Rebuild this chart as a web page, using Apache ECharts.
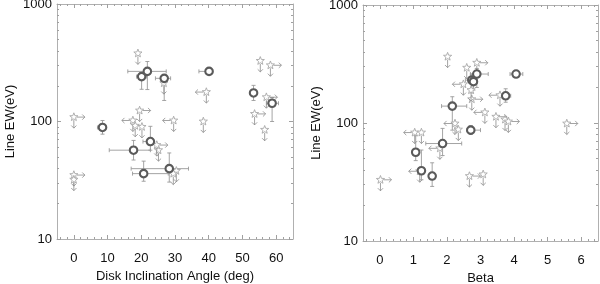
<!DOCTYPE html>
<html><head><meta charset="utf-8">
<script src="https://cdn.jsdelivr.net/npm/echarts@6/dist/echarts.min.js"></script>
<style>html,body{margin:0;padding:0;background:#fff}#c{width:600px;height:284px}</style>
</head><body><div id="c"></div>
<script>
// ---------- Tick labels ----------
const incTicks = [0, 10, 20, 30, 40, 50, 60];
const betaTicks = [0, 1, 2, 3, 4, 5, 6];
const ewTicks = [10, 100, 1000];
const ewMinor = [20, 30, 40, 50, 60, 70, 80, 90, 200, 300, 400, 500, 600, 700, 800, 900];
const incMinor = [-4, -2, 2, 4, 6, 8, 12, 14, 16, 18, 22, 24, 26, 28, 32, 34, 36, 38, 42, 44, 46, 48, 52, 54, 56, 58, 62, 64];
const betaMinor = [-0.4, -0.2, 0.2, 0.4, 0.6, 0.8, 1.2, 1.4, 1.6, 1.8, 2.2, 2.4, 2.6, 2.8, 3.2, 3.4, 3.6, 3.8, 4.2, 4.4, 4.6, 4.8, 5.2, 5.4, 5.6, 5.8, 6.2, 6.4];

// ---------- Left panel: detections [inc, EW, incLo, incHi, EWlo, EWhi] ----------
const incDet = [
  [8.5, 89, 7, 8.5, 78, 102],
  [17.7, 57, 10.5, 22.7, 47, 69],
  [20.1, 241, 18.6, 21.6, 188, 260],
  [21.8, 267, 16, 27.4, 187, 324],
  [20.7, 36, 17.4, 28, 31, 46],
  [22.7, 67.5, 20.5, 23.5, 57, 91],
  [26.8, 233, 24.2, 28.7, 151, 250],
  [28.3, 39.7, 17, 34, 30.5, 54],
  [40.1, 267, 37.1, 41.2, 255, 280],
  [53.3, 175, 53.3, 53.3, 151, 203],
  [58.8, 143, 57.2, 60.7, 100, 160]
];
// upper limits [inc, EW, xArrow(-1 left, 0 none, 1 right)]
const incLim = [
  [0, 109, 1], [0, 35, 1], [0, 32, 0],
  [17.5, 102, -1], [18.2, 92, 0], [19.5, 124, 1], [20.2, 90, 0],
  [19, 380, 0], [26.7, 212, 0], [25.1, 57, 0], [24.6, 63, 1],
  [29.6, 102, -1], [30.4, 38, 0], [29.5, 36, 0],
  [39.3, 178, -1], [38.4, 100, 0],
  [55.3, 328, 0], [58.3, 301, 1], [57.1, 161, 1], [53.6, 116, 1], [56.6, 85, 0]
];

// ---------- Right panel: detections [beta, EW, betaLo, betaHi, EWlo, EWhi] ----------
const betaDet = [
  [1.07, 56.5, 1.0, 1.07, 48, 78],
  [1.24, 39.4, 1.2, 1.3, 33, 59],
  [1.56, 35.5, 1.56, 1.56, 29, 46],
  [1.87, 67, 1.37, 2.44, 53, 90],
  [2.16, 139, 1.84, 2.59, 87, 167],
  [2.71, 87, 2.6, 3.0, 80, 95],
  [2.74, 231, 2.55, 2.9, 180, 260],
  [2.79, 224, 2.7, 2.9, 190, 250],
  [2.89, 260, 2.7, 3.23, 200, 290],
  [3.75, 170, 3.6, 3.9, 150, 195],
  [4.06, 260, 3.88, 4.26, 248, 272]
];
const betaLim = [
  [0.02, 33, 1], [1.04, 83, -1], [1.24, 83, 0], [1.19, 39, -1], [1.79, 61, -1],
  [2.02, 365, 0], [2.24, 99, -1], [2.34, 88, 0], [2.49, 213, -1], [2.59, 294, 0],
  [2.89, 324, 1], [2.74, 159, 1], [2.72, 190, 0], [3.13, 123, -1], [3.46, 113, 1],
  [3.58, 172, -1], [3.73, 107, 0], [3.83, 103, 1], [5.57, 99, 1],
  [2.67, 35.5, 1], [3.08, 36.7, 0]
];

// ---------- styles ----------
const FONT = 'Liberation Sans';
const AXIS_C = '#b0b0b0';
const TICK_C = '#a0a0a0';
const ERR_C = '#9a9a9a';
const STAR_C = '#a8a8a8';
const ARROW_C = '#8c8c8c';
const CIRC_C = '#5a5a5a';

function errRender(params, api) {
  const x = api.value(0), y = api.value(1);
  const c = api.coord([x, y]);
  const xl = api.coord([api.value(2), y]), xh = api.coord([api.value(3), y]);
  const yl = api.coord([x, api.value(4)]), yh = api.coord([x, api.value(5)]);
  const cap = 2;
  const st = { stroke: ERR_C, lineWidth: 0.9, fill: null };
  const ch = [];
  if (Math.abs(xh[0] - xl[0]) > 1) {
    ch.push({ type: 'line', shape: { x1: xl[0], y1: c[1], x2: xh[0], y2: c[1] }, style: st });
    ch.push({ type: 'line', shape: { x1: xl[0], y1: c[1] - cap, x2: xl[0], y2: c[1] + cap }, style: st });
    ch.push({ type: 'line', shape: { x1: xh[0], y1: c[1] - cap, x2: xh[0], y2: c[1] + cap }, style: st });
  }
  ch.push({ type: 'line', shape: { x1: c[0], y1: yl[1], x2: c[0], y2: yh[1] }, style: st });
  ch.push({ type: 'line', shape: { x1: c[0] - cap, y1: yl[1], x2: c[0] + cap, y2: yl[1] }, style: st });
  ch.push({ type: 'line', shape: { x1: c[0] - cap, y1: yh[1], x2: c[0] + cap, y2: yh[1] }, style: st });
  return { type: 'group', children: ch };
}

function limRender(params, api) {
  const c = api.coord([api.value(0), api.value(1)]);
  const dir = api.value(2);
  const R = 4.3, r = 1.8, L = 11, H = 2.6;
  const pts = [];
  for (let k = 0; k < 10; k++) {
    const a = -Math.PI / 2 + k * Math.PI / 5;
    const rr = k % 2 ? r : R;
    pts.push([c[0] + rr * Math.cos(a), c[1] + rr * Math.sin(a)]);
  }
  const ast = { stroke: ARROW_C, lineWidth: 0.8, fill: null };
  const ch = [];
  ch.push({ type: 'line', shape: { x1: c[0], y1: c[1] + 3, x2: c[0], y2: c[1] + L }, style: ast });
  ch.push({ type: 'polyline', shape: { points: [[c[0] - H, c[1] + L - H], [c[0], c[1] + L], [c[0] + H, c[1] + L - H]] }, style: ast });
  if (dir !== 0) {
    const d = dir;
    ch.push({ type: 'line', shape: { x1: c[0] + d * 3, y1: c[1], x2: c[0] + d * L, y2: c[1] }, style: ast });
    ch.push({ type: 'polyline', shape: { points: [[c[0] + d * (L - H), c[1] - H], [c[0] + d * L, c[1]], [c[0] + d * (L - H), c[1] + H]] }, style: ast });
  }
  ch.push({ type: 'polygon', shape: { points: pts }, style: { fill: '#fff', stroke: STAR_C, lineWidth: 0.9 } });
  return { type: 'group', children: ch };
}

function xAxes(gi, min, max, majors, minors, name) {
  const base = { type: 'value', gridIndex: gi, min: min, max: max, splitLine: { show: false } };
  return [
    Object.assign({}, base, {
      position: 'bottom', name: name, nameLocation: 'middle', nameGap: 30,
      nameTextStyle: { fontFamily: FONT, fontSize: 13, color: '#111' },
      axisLine: { show: true, onZero: false, lineStyle: { color: AXIS_C, width: 1 } },
      axisTick: { show: true, inside: true, length: 4, customValues: majors, lineStyle: { color: TICK_C } },
      axisLabel: { show: true, margin: 13, customValues: majors, fontFamily: FONT, fontSize: 13, color: '#111' }
    }),
    Object.assign({}, base, {
      position: 'bottom', axisLine: { show: false, onZero: false },
      axisTick: { show: true, inside: true, length: 2, customValues: minors, lineStyle: { color: TICK_C } },
      axisLabel: { show: false }
    }),
    Object.assign({}, base, {
      position: 'top', axisLine: { show: true, onZero: false, lineStyle: { color: AXIS_C, width: 1 } },
      axisTick: { show: true, inside: true, length: 4, customValues: majors, lineStyle: { color: TICK_C } },
      axisLabel: { show: false }
    }),
    Object.assign({}, base, {
      position: 'top', axisLine: { show: false, onZero: false },
      axisTick: { show: true, inside: true, length: 2, customValues: minors, lineStyle: { color: TICK_C } },
      axisLabel: { show: false }
    })
  ];
}
function yAxes(gi) {
  const base = { type: 'log', logBase: 10, gridIndex: gi, min: 10, max: 1000, splitLine: { show: false } };
  return [
    Object.assign({}, base, {
      position: 'left', name: 'Line EW(eV)', nameLocation: 'middle', nameGap: 40, nameRotate: 90,
      nameTextStyle: { fontFamily: FONT, fontSize: 13, color: '#111' },
      axisLine: { show: true, onZero: false, lineStyle: { color: AXIS_C, width: 1 } },
      axisTick: { show: true, inside: true, length: 4, customValues: ewTicks, lineStyle: { color: TICK_C } },
      axisLabel: { show: true, margin: 5, customValues: ewTicks, formatter: v => String(Math.round(v)), fontFamily: FONT, fontSize: 13, color: '#111' }
    }),
    Object.assign({}, base, {
      position: 'left', axisLine: { show: false, onZero: false },
      axisTick: { show: true, inside: true, length: 2, customValues: ewMinor, lineStyle: { color: TICK_C } },
      axisLabel: { show: false }
    }),
    Object.assign({}, base, {
      position: 'right', axisLine: { show: true, onZero: false, lineStyle: { color: AXIS_C, width: 1 } },
      axisTick: { show: true, inside: true, length: 4, customValues: ewTicks, lineStyle: { color: TICK_C } },
      axisLabel: { show: false }
    }),
    Object.assign({}, base, {
      position: 'right', axisLine: { show: false, onZero: false },
      axisTick: { show: true, inside: true, length: 2, customValues: ewMinor, lineStyle: { color: TICK_C } },
      axisLabel: { show: false }
    })
  ];
}

const chart = echarts.init(document.getElementById('c'), null, { renderer: 'canvas' });
const xs = xAxes(0, -5, 65, incTicks, incMinor, 'Disk Inclination Angle (deg)')
  .concat(xAxes(1, -0.5, 6.5, betaTicks, betaMinor, 'Beta'));
const ys = yAxes(0).concat(yAxes(1));

function panelSeries(xi, yi, det, lim) {
  return [
    { type: 'custom', xAxisIndex: xi, yAxisIndex: yi, data: det, renderItem: errRender, z: 2, silent: true },
    { type: 'custom', xAxisIndex: xi, yAxisIndex: yi, data: lim, renderItem: limRender, z: 3, silent: true },
    { type: 'scatter', xAxisIndex: xi, yAxisIndex: yi, data: det.map(d => [d[0], d[1]]), symbol: 'circle', symbolSize: 7.5,
      itemStyle: { color: '#fff', borderColor: CIRC_C, borderWidth: 2.1, opacity: 1 }, z: 4, silent: true }
  ];
}

chart.setOption({
  animation: false,
  backgroundColor: '#fff',
  grid: [
    { left: 57, top: 4, width: 236, height: 235, containLabel: false, outerBoundsMode: 'none' },
    { left: 363, top: 5, width: 235, height: 236, containLabel: false, outerBoundsMode: 'none' }
  ],
  xAxis: xs,
  yAxis: ys,
  series: panelSeries(0, 0, incDet, incLim).concat(panelSeries(4, 4, betaDet, betaLim))
});
</script>
</body></html>
